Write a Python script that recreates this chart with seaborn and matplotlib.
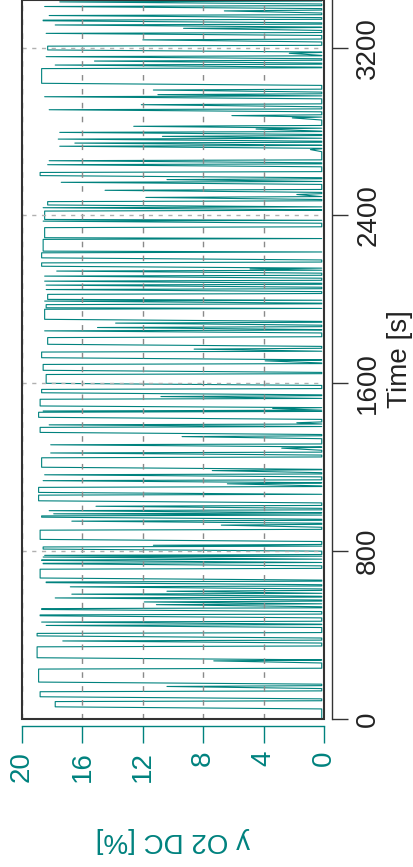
import numpy as np
import matplotlib
matplotlib.use("Agg")
import matplotlib.pyplot as plt
import matplotlib.patches as mpatches
import seaborn as sns
import pandas as pd

# pulses: time of peak [s], peak O2 [%], time held at peak [s]
event_t = [58, 106, 155, 176, 277, 292, 372, 396, 446, 462,
           492, 522, 545, 558, 577, 595, 609, 630, 650, 672,
           740, 756, 772, 780, 810, 828, 856, 924, 943, 962,
           978, 993, 1014, 1040, 1080, 1121, 1136, 1164, 1184, 1200,
           1268, 1291, 1307, 1346, 1366, 1402, 1412, 1438, 1468, 1480,
           1492, 1537, 1555, 1600, 1662, 1707, 1722, 1763, 1786, 1850,
           1866, 1887, 1905, 1960, 1992, 2000, 2047, 2068, 2087, 2111,
           2135, 2145, 2158, 2198, 2230, 2294, 2373, 2381, 2437, 2450,
           2486, 2500, 2520, 2558, 2571, 2590, 2642, 2661, 2714, 2730,
           2745, 2764, 2777, 2796, 2812, 2825, 2865, 2876, 2904, 2928,
           2966, 2976, 2998, 3030, 3117, 3136, 3157, 3173, 3189, 3237,
           3268, 3292, 3308, 3328, 3353, 3375, 3396, 3418]
event_peak = [17.8, 18.8, 10.4, 18.9, 7.3, 19.0, 17.3, 19.0, 18.4, 18.7,
              18.8, 18.7, 11.1, 11.9, 17.8, 16.7, 10.4, 16.8, 18.4, 18.8,
              18.6, 18.7, 18.6, 18.5, 18.6, 11.3, 18.8, 6.8, 16.7, 18.7,
              17.9, 18.2, 15.1, 18.9, 18.9, 6.4, 18.6, 18.5, 7.4, 18.7,
              18.1, 2.8, 18.1, 9.4, 18.8, 18.2, 1.8, 18.9, 18.6, 3.4,
              18.8, 10.8, 18.7, 18.4, 18.6, 3.9, 18.7, 8.6, 18.3, 18.5,
              15.0, 13.8, 18.5, 18.4, 18.5, 18.3, 18.4, 18.4, 18.5, 18.5,
              17.7, 4.9, 18.7, 18.7, 18.6, 18.5, 18.6, 18.5, 18.6, 18.3,
              11.8, 1.8, 14.5, 17.4, 10.4, 18.8, 18.3, 18.2, 0.9, 17.5,
              16.5, 17.6, 10.7, 17.5, 4.5, 12.6, 2.1, 6.1, 18.2, 12.1,
              18.5, 11.0, 11.3, 18.7, 17.8, 15.2, 18.4, 2.3, 18.3, 12.0,
              18.4, 9.3, 17.8, 18.6, 18.2, 6.6, 18.5, 17.5]
event_hold = [25, 24, 0, 62, 0, 52, 0, 12, 0, 0,
              4, 4, 0, 0, 0, 0, 0, 0, 3, 42,
              2, 2, 0, 0, 10, 0, 44, 0, 0, 6,
              0, 0, 0, 27, 24, 0, 0, 0, 0, 45,
              0, 0, 0, 0, 24, 0, 0, 24, 0, 0,
              32, 0, 16, 42, 28, 0, 27, 0, 32, 0,
              0, 0, 48, 15, 0, 24, 0, 0, 0, 0,
              0, 0, 16, 24, 56, 48, 0, 40, 0, 16,
              0, 0, 0, 0, 0, 15, 0, 0, 0, 0,
              0, 0, 0, 0, 0, 0, 0, 0, 0, 0,
              0, 0, 0, 70, 0, 0, 0, 0, 18, 0,
              0, 0, 0, 3, 0, 0, 0, 0]
baseline = 0.15
t_end = 3430

x_ticks = [0, 4, 8, 12, 16, 20]
y_ticks = [0, 800, 1600, 2400, 3200]

teal = "#00827e"
dark = "#222222"

# build the trace: ramp up, hold, quicker drop back to baseline
rise, fall = 10, 4
times, vals = [0.0], [baseline]
for t, p, h in zip(event_t, event_peak, event_hold):
    start = max(times[-1], t - rise)
    times += [start, t, t + h, t + h + fall]
    vals += [baseline, p, p, baseline]
times.append(t_end)
vals.append(baseline)
df = pd.DataFrame({"time": times, "o2": vals})

sns.set_style("ticks")
plt.rcParams["font.family"] = ["Liberation Sans", "DejaVu Sans"]

fig = plt.figure(figsize=(4.14, 8.67), dpi=100)
ax = fig.add_axes([22 / 414, 148 / 867, 302 / 414, 719 / 867])

sns.lineplot(data=df, x="o2", y="time", sort=False, estimator=None,
             color=teal, lw=0.8, ax=ax)

ax.set_xlim(20, 0)
ax.set_ylim(0, 3427)
ax.set_xticks(x_ticks)
ax.set_yticks(y_ticks)

# grid on top of the trace
ax.set_axisbelow(False)
ax.grid(axis="x", color="#8a8a8a", lw=1.0, ls=(0, (4, 6)))
ax.grid(axis="y", color="#b0b0b0", lw=1.0, ls=(0, (3, 4)))

# box around the data area
ax.add_patch(mpatches.Rectangle((0, 0), 1, 1, transform=ax.transAxes, fill=False,
                                ec="#333333", lw=1.5, clip_on=False, zorder=5))

# detached axes: O2 below, time on the right
ax.spines["left"].set_visible(False)
ax.spines["top"].set_visible(False)
ax.spines["bottom"].set_position(("outward", 5))
ax.spines["bottom"].set_color(teal)
ax.spines["bottom"].set_linewidth(1.0)
ax.spines["right"].set_visible(True)
ax.spines["right"].set_position(("outward", 6))
ax.spines["right"].set_color("#333333")
ax.spines["right"].set_linewidth(1.0)

ax.yaxis.tick_right()
ax.tick_params(axis="x", colors=teal, length=12, width=1.0, labelsize=20, pad=6,
               direction="out", bottom=True, top=False)
ax.tick_params(axis="y", colors="#333333", labelcolor=dark, length=11.5, width=1.0,
               labelsize=20, pad=5, direction="out", right=True, left=False)
plt.setp(ax.get_xticklabels(), rotation=90)
plt.setp(ax.get_yticklabels(), rotation=90, va="center")

ax.set_xlabel("y O2 DC [%]", fontsize=20, color=teal)
ax.xaxis.label.set(rotation=180, rotation_mode="default", ha="center", va="center")
ax.xaxis.set_label_coords(0.5, -0.168)

ax.set_ylabel("Time [s]", fontsize=20, color=dark)
ax.yaxis.set_label_position("right")
ax.yaxis.label.set(rotation=90, rotation_mode="default", ha="center", va="center")
ax.yaxis.set_label_coords(1.252, 0.5)

fig.savefig("out.png", dpi=100)
